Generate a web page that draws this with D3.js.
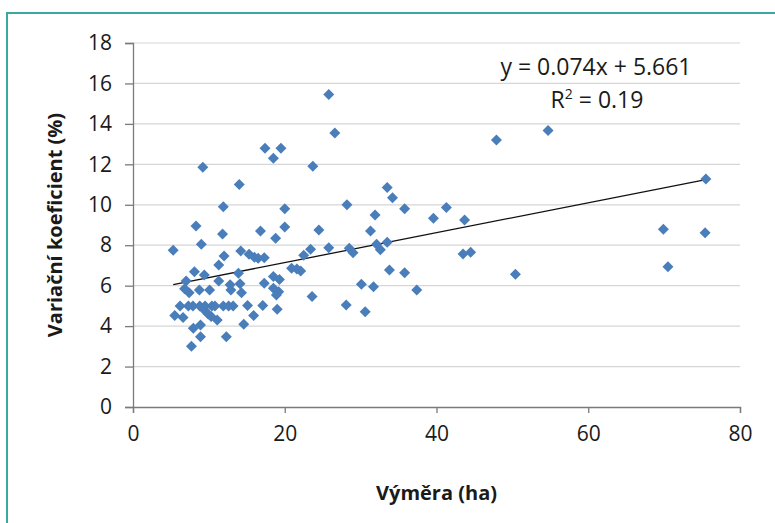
<!DOCTYPE html>
<html>
<head>
<meta charset="utf-8">
<script src="https://cdn.jsdelivr.net/npm/d3@7"></script>
<style>
  body { margin: 0; background: #fff; }
  text { font-family: "Open Sans", "Liberation Sans", sans-serif; fill: #1a1a1a; }
</style>
</head>
<body>
<svg id="chart" width="775" height="523"></svg>
<script>
// values
var vymera = [
  25.8, 26.6, 17.4, 19.5, 18.5, 9.2, 23.7, 14.0, 33.5, 34.2, 35.8, 28.2, 31.9, 11.9, 20.0,
  8.3, 20.0, 11.8, 16.8, 18.8, 24.5, 31.3, 5.3, 9.0, 23.4, 25.8, 28.5, 29.0, 32.1, 32.6,
  33.5, 22.5, 39.6, 41.3, 43.7, 43.5, 44.5, 47.9, 54.7, 75.5, 69.9, 75.4, 70.5, 50.4, 33.8,
  35.8, 30.1, 31.7, 37.4, 23.6, 28.1, 30.6, 14.2, 15.3, 16.0, 16.5, 17.3, 12.0, 11.3, 20.9,
  21.6, 22.1, 8.1, 9.4, 7.0, 13.9, 11.3, 18.5, 19.3, 12.8, 14.1, 17.3, 6.8, 7.4, 8.75,
  10.1, 12.9, 14.3, 18.5, 19.2, 18.9, 6.2, 7.3, 7.9, 8.8, 9.5, 10.4, 10.8, 11.9, 12.6,
  13.2, 9.4, 9.9, 10.3, 5.5, 6.6, 11.1, 15.1, 17.1, 19.0, 15.9, 7.95, 8.9, 14.6, 8.9,
  12.3, 7.7
];
var koeficient = [
  15.45, 13.55, 12.8, 12.8, 12.3, 11.85, 11.9, 11.0, 10.85, 10.35, 9.8, 10.0, 9.5, 9.9, 9.8,
  8.95, 8.9, 8.55, 8.7, 8.35, 8.75, 8.7, 7.75, 8.05, 7.8, 7.88, 7.85, 7.63, 8.05, 7.77,
  8.15, 7.5, 9.33, 9.86, 9.25, 7.57, 7.65, 13.2, 13.67, 11.28, 8.79, 8.62, 6.94, 6.56, 6.78,
  6.64, 6.07, 5.95, 5.79, 5.46, 5.04, 4.71, 7.72, 7.55, 7.4, 7.35, 7.38, 7.47, 7.02, 6.86,
  6.82, 6.73, 6.69, 6.53, 6.23, 6.62, 6.23, 6.45, 6.3, 6.05, 6.1, 6.12, 5.85, 5.65, 5.79,
  5.79, 5.79, 5.65, 5.87, 5.7, 5.54, 5.0, 5.0, 5.0, 5.0, 5.0, 5.0, 5.0, 5.0, 5.0,
  5.0, 4.8, 4.6, 4.47, 4.52, 4.42, 4.3, 5.02, 5.02, 4.83, 4.52, 3.89, 4.06, 4.09, 3.48,
  3.48, 3.0
];
var xTicks = [0, 20, 40, 60, 80];
var yTicks = [0, 2, 4, 6, 8, 10, 12, 14, 16, 18];
var slope = 0.074, intercept = 5.661;
var rovnice = "y = 0.074x + 5.661";
var r2 = "0.19";

var svg = d3.select("#chart");

// teal frame
svg.append("rect")
  .attr("x", 7).attr("y", 13)
  .attr("width", 790).attr("height", 540)
  .attr("fill", "none")
  .attr("stroke", "#35aa9d")
  .attr("stroke-width", 2);

var x = d3.scaleLinear().domain([0, 80]).range([133, 740]);
var y = d3.scaleLinear().domain([0, 18]).range([407, 43]);

// gridlines
svg.append("g")
  .selectAll("line")
  .data(yTicks.filter(function (d) { return d > 0; }))
  .enter()
  .append("line")
  .attr("x1", x(0)).attr("x2", x(80))
  .attr("y1", function (d) { return y(d); })
  .attr("y2", function (d) { return y(d); })
  .style("stroke", "#d6d6d6")
  .style("stroke-width", 1.2);

var yAxis = svg.append("g")
  .attr("transform", "translate(" + x(0) + ",0)")
  .call(d3.axisLeft(y).tickValues(yTicks).tickSize(8).tickPadding(13));

var xAxis = svg.append("g")
  .attr("transform", "translate(0," + y(0) + ")")
  .call(d3.axisBottom(x).tickValues(xTicks).tickSize(6).tickPadding(13));

[yAxis, xAxis].forEach(function (ax) {
  ax.select(".domain").style("stroke", "#7a7a7a").style("stroke-width", 1.3);
  ax.selectAll(".tick line").style("stroke", "#7a7a7a").style("stroke-width", 1.3);
  ax.selectAll(".tick text")
    .style("font-family", "'Open Sans', sans-serif")
    .style("font-size", "21px")
    .style("fill", "#1a1a1a");
});

// trend line over the data range
var xMin = d3.min(vymera), xMax = d3.max(vymera);
svg.append("line")
  .attr("x1", x(xMin)).attr("y1", y(slope * xMin + intercept))
  .attr("x2", x(xMax)).attr("y2", y(slope * xMax + intercept))
  .style("stroke", "#111")
  .style("stroke-width", 1.3);

var points = vymera.map(function (v, i) {
  return { x: v, y: koeficient[i] };
});

svg.append("g")
  .selectAll("path")
  .data(points)
  .enter()
  .append("path")
  .attr("d", "M0,-5.5L5.5,0L0,5.5L-5.5,0Z")
  .attr("transform", function (d) {
    return "translate(" + x(d.x) + "," + y(d.y) + ")";
  })
  .style("fill", "#4a7ebb");

// equation
svg.append("text")
  .attr("x", 596).attr("y", 75)
  .attr("text-anchor", "middle")
  .style("font-size", "23px")
  .text(rovnice);

var r2Text = svg.append("text")
  .attr("x", 597).attr("y", 108)
  .attr("text-anchor", "middle")
  .style("font-size", "23px");
r2Text.append("tspan").text("R");
r2Text.append("tspan").attr("dy", -9).style("font-size", "14px").text("2");
r2Text.append("tspan").attr("dy", 9).text(" = " + r2);

// axis titles
svg.append("text")
  .attr("x", x(40)).attr("y", 500)
  .attr("text-anchor", "middle")
  .style("font-size", "20px")
  .style("font-weight", "bold")
  .text("Výměra (ha)");

svg.append("text")
  .attr("transform", "translate(62,225) rotate(-90)")
  .attr("text-anchor", "middle")
  .style("font-size", "20px")
  .style("font-weight", "bold")
  .text("Variační koeficient (%)");
</script>
</body>
</html>
